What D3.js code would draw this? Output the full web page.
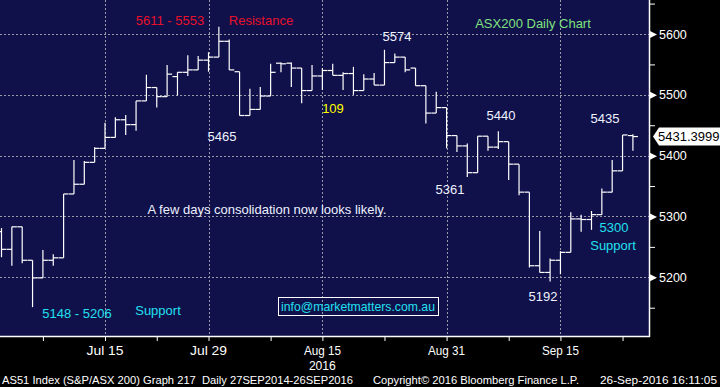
<!DOCTYPE html>
<html lang="en">
	<head>
		<meta charset="utf-8">
		<title>ASX200 Daily Chart</title>
		<script type="text/javascript" src="https://cdn.jsdelivr.net/npm/d3@7/dist/d3.min.js"></script>
		<style type="text/css">
			html, body { margin: 0; padding: 0; background: #000; }
			svg { display: block; }
			.note { font-family: "Liberation Sans", Arial, sans-serif; font-size: 13px; }
			.axis text { font-family: "Liberation Sans", Arial, sans-serif; font-size: 12.5px; fill: #fff; }
			.narrow { font-family: "Liberation Sans Narrow", "Liberation Sans", sans-serif; fill: #fff; }
		</style>
	</head>
	<body>
		<script type="text/javascript">

			// chart data (AS51, daily bars)
			var dates = ["1 Jul","4 Jul","5 Jul","6 Jul","7 Jul","8 Jul","11 Jul","12 Jul","13 Jul","14 Jul",
				"15 Jul","18 Jul","19 Jul","20 Jul","21 Jul","22 Jul","25 Jul","26 Jul","27 Jul","28 Jul",
				"29 Jul","1 Aug","2 Aug","3 Aug","4 Aug","5 Aug","8 Aug","9 Aug","10 Aug","11 Aug",
				"12 Aug","15 Aug","16 Aug","17 Aug","18 Aug","19 Aug","22 Aug","23 Aug","24 Aug","25 Aug",
				"26 Aug","29 Aug","30 Aug","31 Aug","1 Sep","2 Sep","5 Sep","6 Sep","7 Sep","8 Sep",
				"9 Sep","12 Sep","13 Sep","14 Sep","15 Sep","16 Sep","19 Sep","20 Sep","21 Sep","22 Sep",
				"23 Sep","26 Sep"];
			var open  = [5275,5246,5283,5228,5199,5228,5232,5337,5353,5389,5412,5430,5459,5451,5490,5512,5497,5530,5537,5541,
				5557,5562,5588,5538,5466,5476,5498,5552,5552,5544,5507,5531,5540,5532,5535,5507,5526,5516,5553,5562,
				5544,5515,5470,5479,5433,5416,5372,5432,5414,5423,5386,5340,5219,5208,5228,5241,5296,5295,5303,5340,
				5375,5433];
			var high  = [5281,5283,5283,5228,5245,5238,5337,5393,5391,5414,5454,5463,5467,5490,5533,5512,5549,5537,5565,5564,
				5570,5612,5591,5538,5510,5513,5551,5553,5553,5544,5549,5544,5551,5537,5546,5534,5536,5574,5568,5562,
				5544,5515,5505,5479,5433,5420,5432,5432,5440,5423,5386,5340,5276,5231,5243,5307,5303,5309,5346,5393,
				5434,5435];
			var low   = [5233,5219,5223,5151,5199,5219,5232,5337,5353,5389,5412,5430,5434,5441,5490,5479,5497,5499,5531,5541,
				5538,5562,5541,5466,5466,5476,5498,5537,5513,5486,5507,5508,5532,5508,5500,5507,5516,5516,5553,5537,
				5515,5453,5470,5412,5406,5365,5372,5408,5411,5360,5335,5216,5208,5193,5205,5241,5275,5278,5303,5340,
				5375,5408];
			var close = [5246,5283,5228,5199,5228,5232,5337,5353,5389,5412,5430,5459,5451,5490,5512,5497,5534,5537,5541,5557,
				5562,5588,5541,5466,5476,5498,5537,5551,5544,5507,5531,5540,5532,5535,5507,5526,5516,5553,5562,5541,
				5515,5470,5479,5433,5416,5372,5432,5414,5423,5386,5340,5219,5208,5228,5241,5296,5295,5303,5340,5375,
				5434,5431.3999];

			// axis ticks
			var yMajor = [5200, 5300, 5400, 5500, 5600];
			var yMinor = [5150, 5250, 5350, 5450, 5550, 5650];
			var xTicks = [4, 10, 15, 20, 26, 31, 37, 43, 49, 54, 60];
			var xLabels = [[10, "Jul 15"], [20, "Jul 29"], [31, "Aug 15"], [43, "Aug 31"], [54, "Sep 15"]];

			var w = 720, h = 387;
			var plotW = 649, plotH = 336;

			var x = d3.scaleLinear().domain([0, dates.length - 1]).range([1.5, 632.9]);
			var y = d3.scaleLinear().domain([5200, 5600]).range([277.3, 34]);

			var svg = d3.select("body").append("svg")
				.attr("width", w).attr("height", h);

			svg.append("rect").attr("width", w).attr("height", h).attr("fill", "#000");
			svg.append("rect").attr("width", plotW).attr("height", plotH).attr("fill", "#10104a");

			// dotted grid
			svg.selectAll("line.hgrid").data(yMajor).enter().append("line")
				.attr("x1", 0).attr("x2", plotW)
				.attr("y1", function(d) { return Math.round(y(d)) + 0.5; })
				.attr("y2", function(d) { return Math.round(y(d)) + 0.5; })
				.attr("stroke", "#9a9aa8").attr("stroke-dasharray", "2,2");
			svg.selectAll("line.vgrid").data(xLabels).enter().append("line")
				.attr("x1", function(d) { return Math.round(x(d[0])) + 0.5; })
				.attr("x2", function(d) { return Math.round(x(d[0])) + 0.5; })
				.attr("y1", 0).attr("y2", plotH)
				.attr("stroke", "#9a9aa8").attr("stroke-dasharray", "2,2");

			// OHLC bars
			var bars = svg.append("g").attr("stroke", "#fff").attr("stroke-width", 1.2);
			dates.forEach(function(d, i) {
				var cx = x(i);
				bars.append("line").attr("x1", cx).attr("x2", cx).attr("y1", y(high[i])).attr("y2", y(low[i]));
				bars.append("line").attr("x1", cx - 5).attr("x2", cx).attr("y1", y(open[i])).attr("y2", y(open[i]));
				bars.append("line").attr("x1", cx).attr("x2", cx + 5).attr("y1", y(close[i])).attr("y2", y(close[i]));
			});

			// right axis
			var yAxis = d3.axisRight(y).tickValues(yMajor.concat(yMinor))
				.tickSize(6).tickPadding(4)
				.tickFormat(function(d) { return yMajor.indexOf(d) >= 0 ? d : ""; });
			var ya = svg.append("g").attr("class", "axis").attr("transform", "translate(" + plotW + ",0)").call(yAxis);
			ya.select(".domain").remove();
			ya.selectAll(".tick line").attr("stroke", "#fff");
			ya.selectAll(".tick").filter(function(d) { return yMajor.indexOf(d) >= 0; })
				.append("path").attr("d", "M0,-4L8,0L0,4Z").attr("fill", "#fff");
			svg.append("line").attr("x1", plotW + 0.5).attr("x2", plotW + 0.5).attr("y1", 0).attr("y2", plotH + 1)
				.attr("stroke", "#fff").attr("stroke-width", 1.5);

			// bottom axis
			var xAxis = d3.axisBottom(x).tickValues(xTicks).tickSize(5).tickFormat("");
			var xa = svg.append("g").attr("transform", "translate(0," + plotH + ")").call(xAxis);
			xa.select(".domain").remove();
			xa.selectAll(".tick line").attr("stroke", "#fff");
			svg.append("line").attr("x1", 0).attr("x2", plotW + 1).attr("y1", plotH + 0.5).attr("y2", plotH + 0.5)
				.attr("stroke", "#fff").attr("stroke-width", 1.5);

			svg.selectAll("text.xlab").data(xLabels).enter().append("text")
				.attr("class", "narrow").attr("font-size", 13.5)
				.attr("x", function(d) { return x(d[0]); }).attr("y", 355)
				.attr("text-anchor", "middle")
				.attr("textLength", 37).attr("lengthAdjust", "spacingAndGlyphs")
				.text(function(d) { return d[1]; });
			svg.append("text").attr("class", "narrow").attr("font-size", 13)
				.attr("x", x(31)).attr("y", 369.5).attr("text-anchor", "middle")
				.attr("textLength", 27).attr("lengthAdjust", "spacingAndGlyphs").text("2016");

			// last price tag
			var lastY = y(close[close.length - 1]);
			svg.append("path")
				.attr("d", "M653," + lastY + "L659," + (lastY - 9) + "L720," + (lastY - 9) + "L720," + (lastY + 9) + "L659," + (lastY + 9) + "Z")
				.attr("fill", "#fff");
			svg.append("text").attr("class", "note").attr("font-size", 12.5)
				.attr("x", 658).attr("y", lastY + 4.5).attr("fill", "#000").text("5431.3999");

			// annotations
			var notes = [
				[170, 25, "5611 - 5553", "#e8102a", "middle"],
				[261, 25, "Resistance", "#e8102a", "middle"],
				[397, 41, "5574", "#eef2ff", "middle"],
				[533, 28, "ASX200 Daily Chart", "#7fe07f", "middle"],
				[222, 141, "5465", "#eef2ff", "middle"],
				[333, 113, "109", "#ffff00", "middle"],
				[501, 120, "5440", "#eef2ff", "middle"],
				[605, 123, "5435", "#eef2ff", "middle"],
				[450, 194, "5361", "#eef2ff", "middle"],
				[267, 214, "A few days consolidation now looks likely.", "#eef2ff", "middle"],
				[614, 232, "5300", "#22e0f0", "middle"],
				[613, 250, "Support", "#22e0f0", "middle"],
				[543, 301, "5192", "#eef2ff", "middle"],
				[77, 318, "5148 - 5206", "#22e0f0", "middle"],
				[158, 315, "Support", "#22e0f0", "middle"]
			];
			svg.selectAll("text.ann").data(notes).enter().append("text")
				.attr("class", "note")
				.attr("x", function(d) { return d[0]; }).attr("y", function(d) { return d[1]; })
				.attr("fill", function(d) { return d[3]; })
				.attr("text-anchor", function(d) { return d[4]; })
				.text(function(d) { return d[2]; });

			svg.append("rect").attr("x", 278.5).attr("y", 297.5).attr("width", 160).attr("height", 18)
				.attr("fill", "none").attr("stroke", "#fff");
			svg.append("text").attr("class", "note").attr("font-size", 12.5).attr("x", 358).attr("y", 311)
				.attr("text-anchor", "middle").attr("fill", "#22e0f0")
				.attr("textLength", 154).attr("lengthAdjust", "spacingAndGlyphs")
				.text("info@marketmatters.com.au");

			// footer
			var footer = [
				[2, 351, "AS51 Index (S&P/ASX 200) Graph 217  Daily 27SEP2014-26SEP2016"],
				[373, 206, "Copyright\u00a9 2016 Bloomberg Finance L.P."],
				[600, 117, "26-Sep-2016 16:11:05"]
			];
			svg.selectAll("text.foot").data(footer).enter().append("text")
				.attr("class", "narrow").attr("font-size", 11.5)
				.attr("x", function(d) { return d[0]; }).attr("y", 384)
				.attr("textLength", function(d) { return d[1]; })
				.attr("lengthAdjust", "spacingAndGlyphs")
				.attr("xml:space", "preserve")
				.text(function(d) { return d[2]; });
		</script>
	</body>
</html>
